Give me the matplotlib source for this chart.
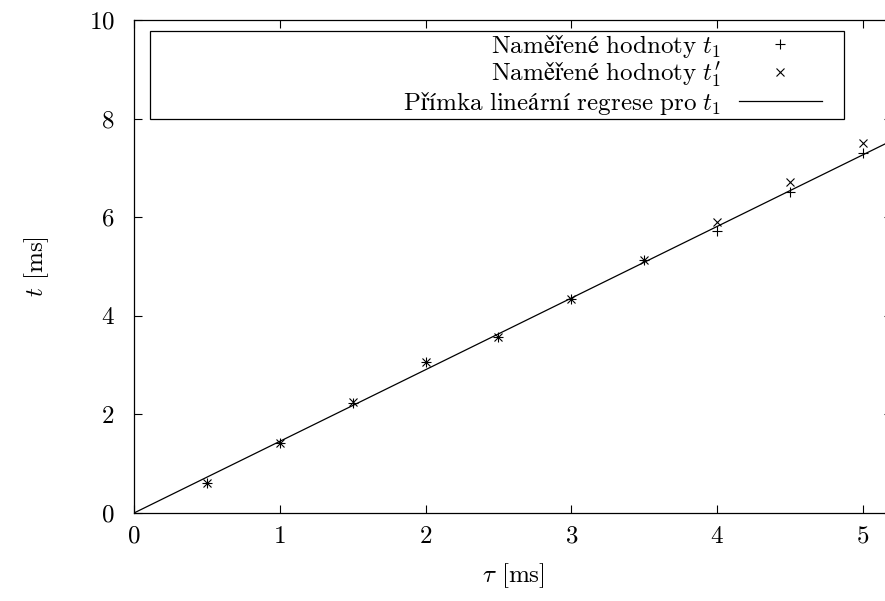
import numpy as np
import matplotlib
matplotlib.use("Agg")
import matplotlib.pyplot as plt
from matplotlib.patches import Rectangle

plt.rcParams['font.family'] = ['cmr10', 'DejaVu Serif']
plt.rcParams['mathtext.fontset'] = 'cm'
plt.rcParams['axes.formatter.use_mathtext'] = True
plt.rcParams['font.size'] = 18

# namerene hodnoty
tau = [0.5, 1.0, 1.5, 2.0, 2.5, 3.0, 3.5, 4.0, 4.5, 5.0]
t1 = [0.60, 1.43, 2.24, 3.06, 3.58, 4.35, 5.13, 5.71, 6.51, 7.31]
t1_prime = [0.61, 1.43, 2.25, 3.06, 3.58, 4.35, 5.13, 5.91, 6.71, 7.51]

xTicks = [0, 1, 2, 3, 4, 5]
yTicks = [0, 2, 4, 6, 8, 10]

# cmr10 nema ceske znaky, v mathtextu se doplni
labelT1 = r'$\mathrm{Naměřené\ hodnoty}\ t_1$'
labelT1p = r'$\mathrm{Naměřené\ hodnoty}\ t^{\prime}_1$'
labelFit = r'$\mathrm{Přímka\ lineární\ regrese\ pro}\ t_1$'

# linearni regrese pres pocatek
x = np.array(tau)
y = np.array(t1)
slope = np.sum(x * y) / np.sum(x * x)

fig = plt.figure(figsize=(8.85, 6.01), dpi=100)
ax = fig.add_axes([134 / 885, 88 / 601, 758 / 885, 493 / 601])

ax.set_xlim(0, 5.2)
ax.set_ylim(0, 10)

ax.plot(tau, t1, linestyle='none', marker='+', markersize=7, markeredgewidth=0.8,
        color='black', label=labelT1)
ax.plot(tau, t1_prime, linestyle='none', marker='x', markersize=6, markeredgewidth=0.8,
        color='black', label=labelT1p)
xs = np.array(ax.get_xlim())
ax.plot(xs, slope * xs, color='black', linewidth=0.9, label=labelFit)

ax.set_xticks(xTicks)
ax.set_yticks(yTicks)
ax.tick_params(direction='in', length=6, width=0.8, top=True, right=True, labelsize=18)
ax.tick_params(axis='x', pad=9)
ax.tick_params(axis='y', pad=14)
for s in ax.spines.values():
    s.set_linewidth(0.9)

ax.set_xlabel(r'$\tau$ [ms]', fontsize=18, labelpad=10)
ax.set_ylabel(r'$t$ [ms]', fontsize=18, labelpad=27)

leg = ax.legend(loc='upper right', bbox_to_anchor=(834 / 885, 1 - 20 / 601),
                bbox_transform=fig.transFigure, frameon=False, markerfirst=False,
                handlelength=3.3, handletextpad=0.7, labelspacing=0.0,
                borderpad=0, fontsize=18)

# ramecek legendy
ax.add_patch(Rectangle((150 / 885, 1 - 119 / 601), (844 - 150) / 885, (119 - 31) / 601,
                       transform=fig.transFigure, fill=False, edgecolor='black',
                       linewidth=0.9, clip_on=False))

fig.savefig('out.png', dpi=100)
